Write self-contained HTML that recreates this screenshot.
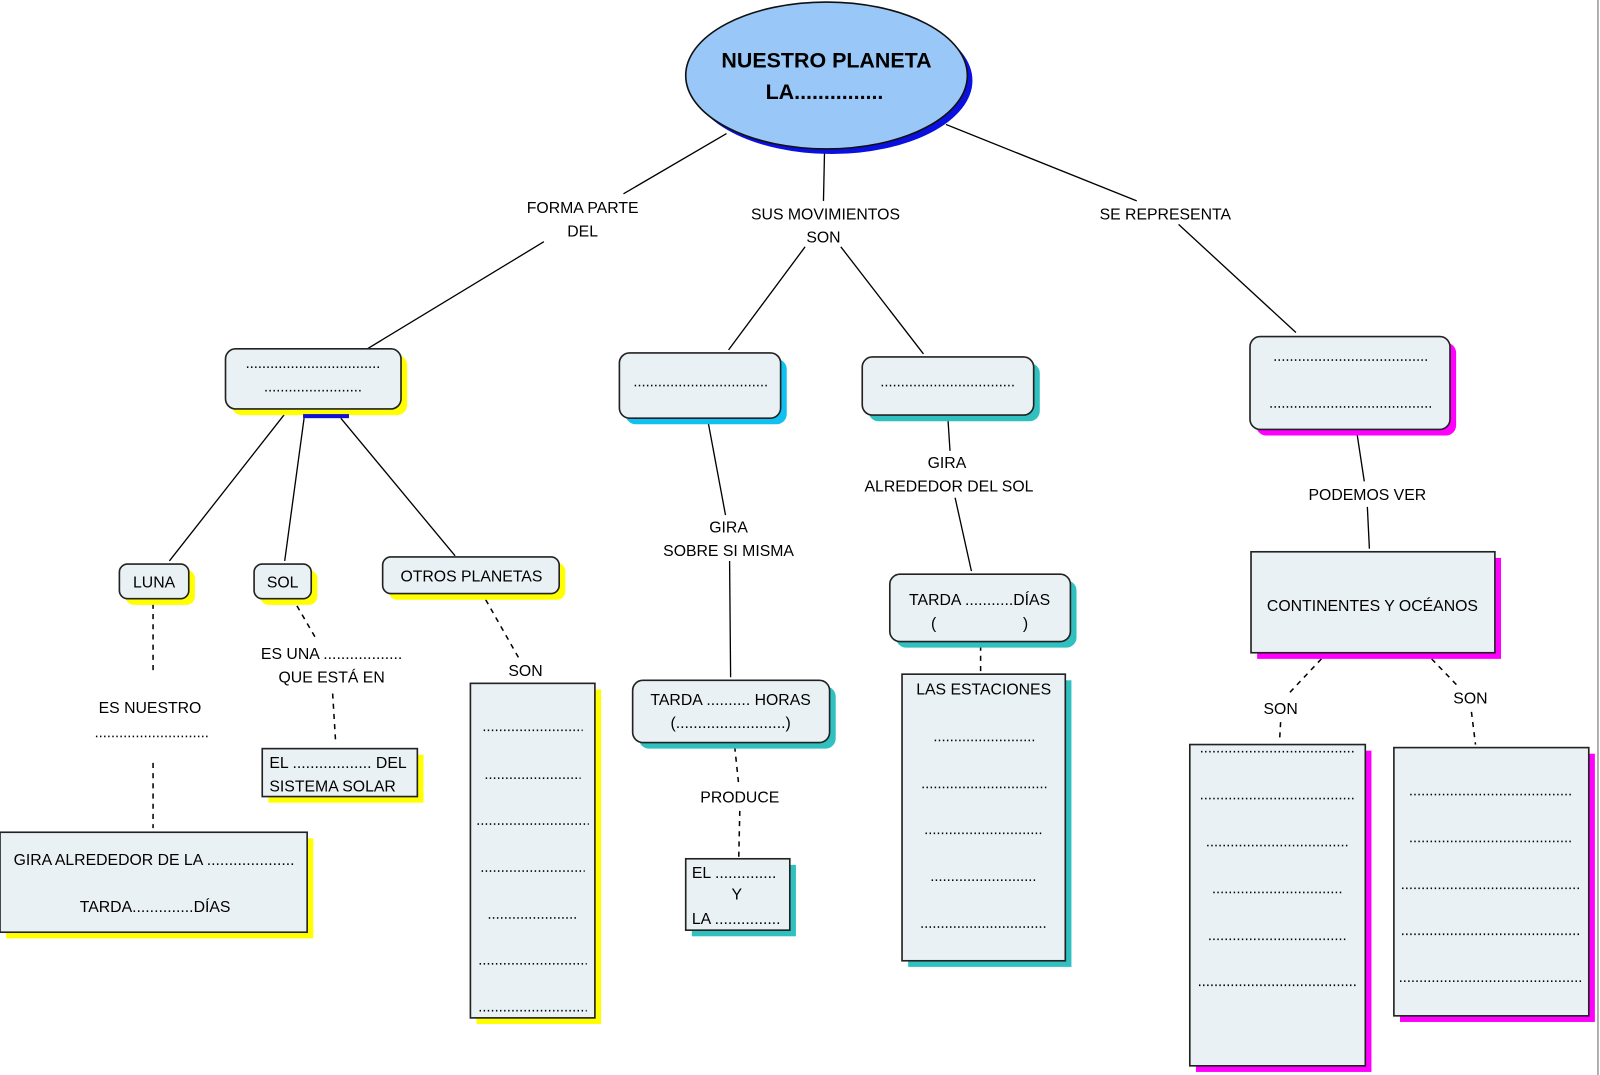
<!DOCTYPE html>
<html><head><meta charset="utf-8"><style>
html,body{margin:0;padding:0;background:#fff;width:1600px;height:1075px;overflow:hidden}
svg{display:block}
text{font-family:"Liberation Sans",sans-serif;font-size:15.5px;fill:#000;text-anchor:middle}
.b{fill:#eaf1f4;stroke:#222;stroke-width:1.6}
.l{stroke:#000;stroke-width:1.3;fill:none}
.d{stroke:#000;stroke-width:1.5;fill:none;stroke-dasharray:5 5}
.dt{stroke:#000;stroke-width:1.6;fill:none;stroke-dasharray:1.4 2.6}
</style></head><body>
<svg width="1600" height="1075" viewBox="0 0 1568 1054" preserveAspectRatio="none" xmlns="http://www.w3.org/2000/svg">
<line x1="1566" y1="0" x2="1566" y2="1054" stroke="#999" stroke-width="1.5"/>
<!-- connectors -->
<line class="l" x1="712" y1="131" x2="611" y2="190"/>
<line class="l" x1="533" y1="237" x2="360" y2="342"/>
<line class="l" x1="808" y1="150" x2="807" y2="197"/>
<line class="l" x1="789" y1="242" x2="714" y2="343"/>
<line class="l" x1="824" y1="242" x2="905" y2="347"/>
<line class="l" x1="927" y1="122" x2="1114" y2="197"/>
<line class="l" x1="1155" y1="220" x2="1270" y2="326"/>
<line class="l" x1="279" y1="406" x2="166" y2="550"/>
<line class="l" x1="298" y1="410" x2="279" y2="550"/>
<line class="l" x1="334" y1="410" x2="446" y2="545"/>
<line class="d" x1="150" y1="592" x2="150" y2="660"/>
<line class="d" x1="150" y1="748" x2="150" y2="812"/>
<line class="d" x1="291" y1="594" x2="309" y2="625"/>
<line class="d" x1="326" y1="680" x2="329" y2="729"/>
<line class="d" x1="476" y1="588" x2="510" y2="648"/>
<line class="l" x1="694" y1="414" x2="711" y2="505"/>
<line class="l" x1="715" y1="550" x2="716" y2="664"/>
<line class="d" x1="720" y1="732" x2="724" y2="770"/>
<line class="d" x1="725" y1="795" x2="724" y2="840"/>
<line class="l" x1="929" y1="411" x2="931" y2="442"/>
<line class="l" x1="936" y1="488" x2="952" y2="560"/>
<line class="d" x1="961" y1="633" x2="961" y2="660"/>
<line class="l" x1="1330" y1="426" x2="1337" y2="472"/>
<line class="l" x1="1340" y1="497" x2="1342" y2="538"/>
<line class="d" x1="1295" y1="646" x2="1263" y2="680"/>
<line class="d" x1="1255" y1="708" x2="1254" y2="726"/>
<line class="d" x1="1403" y1="646" x2="1428" y2="672"/>
<line class="d" x1="1442" y1="698" x2="1446" y2="730"/>

<!-- ellipse -->
<ellipse cx="815" cy="79" rx="138" ry="72" fill="#0a10e0"/>
<ellipse cx="810" cy="74" rx="138" ry="72" fill="#99c8f8" stroke="#111" stroke-width="1.6"/>
<text x="810" y="66" style="font-size:21px;font-weight:bold">NUESTRO PLANETA</text>
<text x="808" y="97" style="font-size:21px;font-weight:bold">LA...............</text>

<text x="571" y="209">FORMA PARTE</text><text x="571" y="232">DEL</text>
<text x="809" y="215">SUS MOVIMIENTOS</text><text x="807" y="238">SON</text>
<text x="1142" y="215">SE REPRESENTA</text>

<!-- Box A -->
<rect x="227" y="348" width="172" height="59" rx="10" fill="#ffff00"/>
<rect class="b" x="221" y="342" width="172" height="59" rx="10"/>
<line class="dt" x1="242" y1="360" x2="372" y2="360"/>
<line class="dt" x1="260" y1="383" x2="354" y2="383"/>
<rect x="297" y="406" width="45" height="4" fill="#1010d0"/>

<!-- Box B -->
<rect x="613" y="352" width="158" height="64" rx="10" fill="#10c0f0"/>
<rect class="b" x="607" y="346" width="158" height="64" rx="10"/>
<line class="dt" x1="622" y1="378" x2="752" y2="378"/>

<!-- Box C -->
<rect x="851" y="356" width="168" height="57" rx="10" fill="#30c0c0"/>
<rect class="b" x="845" y="350" width="168" height="57" rx="10"/>
<line class="dt" x1="864" y1="378" x2="994" y2="378"/>

<!-- Box D -->
<rect x="1231" y="336" width="196" height="91" rx="10" fill="#ff00ff"/>
<rect class="b" x="1225" y="330" width="196" height="91" rx="10"/>
<line class="dt" x1="1249" y1="353" x2="1400" y2="353"/>
<line class="dt" x1="1245" y1="399" x2="1404" y2="399"/>

<!-- LUNA SOL OTROS -->
<rect x="123" y="559" width="68" height="34" rx="8" fill="#ffff00"/>
<rect class="b" x="117" y="553" width="68" height="34" rx="8"/>
<text x="151" y="576">LUNA</text>
<rect x="255" y="559" width="56" height="34" rx="8" fill="#ffff00"/>
<rect class="b" x="249" y="553" width="56" height="34" rx="8"/>
<text x="277" y="576">SOL</text>
<rect x="381" y="552" width="173" height="36" rx="8" fill="#ffff00"/>
<rect class="b" x="375" y="546" width="173" height="36" rx="8"/>
<text x="462" y="570">OTROS PLANETAS</text>

<text x="147" y="699">ES NUESTRO</text>
<line class="dt" x1="94" y1="722" x2="206" y2="722"/>
<text x="325" y="646">ES UNA ..................</text>
<text x="325" y="669">QUE ESTÁ EN</text>
<text x="515" y="663">SON</text>

<!-- GIRA ALREDEDOR DE LA -->
<rect x="6" y="822" width="301" height="98" fill="#ffff00"/>
<rect class="b" x="0" y="816" width="301" height="98"/>
<text x="151" y="848">GIRA ALREDEDOR DE LA ....................</text>
<text x="152" y="894">TARDA..............DÍAS</text>

<!-- EL DEL -->
<rect x="263" y="740" width="152" height="47" fill="#ffff00"/>
<rect class="b" x="257" y="734" width="152" height="47"/>
<text x="264" y="753" style="text-anchor:start">EL .................. DEL</text>
<text x="264" y="776" style="text-anchor:start">SISTEMA SOLAR</text>

<!-- SON list yellow -->
<rect x="467" y="676" width="122" height="328" fill="#ffff00"/>
<rect class="b" x="461" y="670" width="122" height="328"/>
<line class="dt" x1="474" y1="716" x2="571" y2="716"/>
<line class="dt" x1="476" y1="763" x2="569" y2="763"/>
<line class="dt" x1="468" y1="808" x2="577" y2="808"/>
<line class="dt" x1="472" y1="854" x2="573" y2="854"/>
<line class="dt" x1="479" y1="900" x2="567" y2="900"/>
<line class="dt" x1="470" y1="945" x2="575" y2="945"/>
<line class="dt" x1="470" y1="991" x2="575" y2="991"/>

<text x="714" y="522">GIRA</text><text x="714" y="545">SOBRE SI MISMA</text>

<!-- TARDA HORAS -->
<rect x="626" y="673" width="193" height="61" rx="10" fill="#30c0c0"/>
<rect class="b" x="620" y="667" width="193" height="61" rx="10"/>
<text x="716" y="691">TARDA .......... HORAS</text>
<text x="716" y="714">(.........................)</text>
<text x="725" y="787">PRODUCE</text>

<!-- EL y LA -->
<rect x="678" y="848" width="102" height="70" fill="#30c0c0"/>
<rect class="b" x="672" y="842" width="102" height="70"/>
<text x="678" y="861" style="text-anchor:start">EL ..............</text>
<text x="722" y="882">Y</text>
<text x="678" y="906" style="text-anchor:start">LA ...............</text>

<text x="928" y="459">GIRA</text><text x="930" y="482">ALREDEDOR DEL SOL</text>

<!-- TARDA DIAS -->
<rect x="878" y="569" width="177" height="66" rx="10" fill="#30c0c0"/>
<rect class="b" x="872" y="563" width="177" height="66" rx="10"/>
<text x="960" y="593">TARDA ...........DÍAS</text>
<text x="915" y="616">(</text><text x="1005" y="616">)</text>

<!-- ESTACIONES -->
<rect x="890" y="667" width="160" height="281" fill="#30c0c0"/>
<rect class="b" x="884" y="661" width="160" height="281"/>
<text x="964" y="681">LAS ESTACIONES</text>
<line class="dt" x1="916" y1="726" x2="1014" y2="726"/>
<line class="dt" x1="904" y1="772" x2="1026" y2="772"/>
<line class="dt" x1="907" y1="817" x2="1023" y2="817"/>
<line class="dt" x1="913" y1="863" x2="1017" y2="863"/>
<line class="dt" x1="903" y1="909" x2="1027" y2="909"/>

<text x="1340" y="490">PODEMOS VER</text>

<!-- CONTINENTES -->
<rect x="1232" y="547" width="239" height="99" fill="#ff00ff"/>
<rect class="b" x="1226" y="541" width="239" height="99"/>
<text x="1345" y="599">CONTINENTES Y OCÉANOS</text>
<text x="1255" y="700">SON</text>
<text x="1441" y="690">SON</text>

<!-- left magenta list -->
<rect x="1172" y="736" width="172" height="315" fill="#ff00ff"/>
<rect class="b" x="1166" y="730" width="172" height="315"/>
<line class="dt" x1="1177" y1="737" x2="1328" y2="737"/>
<line class="dt" x1="1177" y1="783" x2="1328" y2="783"/>
<line class="dt" x1="1183" y1="829" x2="1322" y2="829"/>
<line class="dt" x1="1189" y1="875" x2="1316" y2="875"/>
<line class="dt" x1="1185" y1="921" x2="1320" y2="921"/>
<line class="dt" x1="1175" y1="966" x2="1330" y2="966"/>

<!-- right magenta list -->
<rect x="1372" y="739" width="191" height="263" fill="#ff00ff"/>
<rect class="b" x="1366" y="733" width="191" height="263"/>
<line class="dt" x1="1382" y1="779" x2="1541" y2="779"/>
<line class="dt" x1="1382" y1="825" x2="1541" y2="825"/>
<line class="dt" x1="1374" y1="871" x2="1549" y2="871"/>
<line class="dt" x1="1374" y1="916" x2="1549" y2="916"/>
<line class="dt" x1="1372" y1="962" x2="1551" y2="962"/>
</svg>
</body></html>
